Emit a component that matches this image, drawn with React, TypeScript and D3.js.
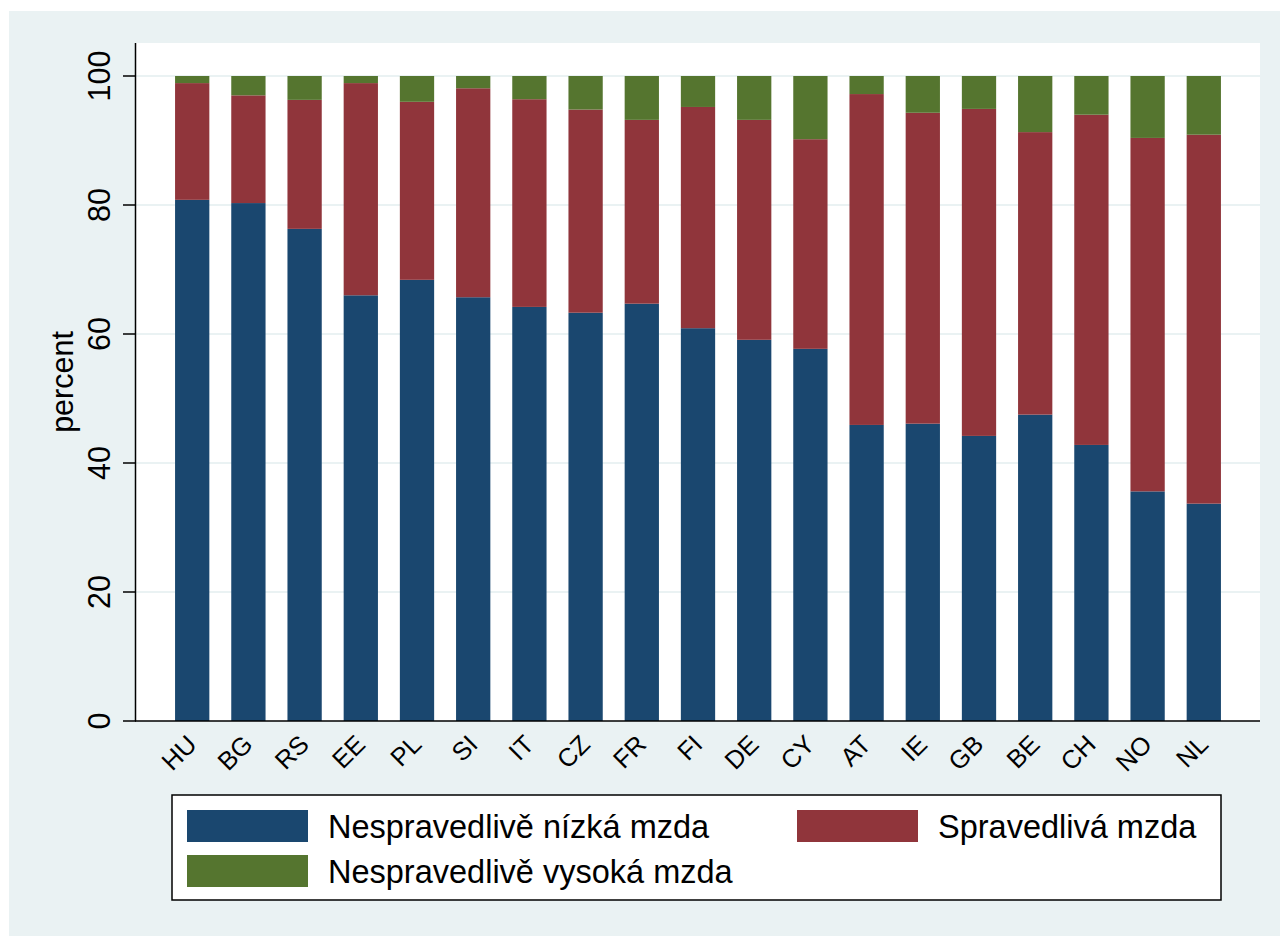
import * as React from 'react';
import * as d3 from 'd3';

// categories and series (percent of respondents)
const countries = ['HU', 'BG', 'RS', 'EE', 'PL', 'SI', 'IT', 'CZ', 'FR', 'FI', 'DE', 'CY', 'AT', 'IE', 'GB', 'BE', 'CH', 'NO', 'NL'];
const lowWage = [80.8, 80.3, 76.3, 66.0, 68.4, 65.7, 64.2, 63.3, 64.7, 60.9, 59.1, 57.7, 45.9, 46.1, 44.2, 47.5, 42.8, 35.6, 33.7];
const fairWage = [18.1, 16.7, 20.0, 32.9, 27.6, 32.4, 32.2, 31.5, 28.5, 34.3, 34.1, 32.5, 51.3, 48.2, 50.7, 43.8, 51.2, 54.8, 57.2];
const highWage = [1.1, 3.0, 3.7, 1.1, 4.0, 1.9, 3.6, 5.2, 6.8, 4.8, 6.8, 9.8, 2.8, 5.7, 5.1, 8.7, 6.0, 9.6, 9.1];
const yTicks = [0, 20, 40, 60, 80, 100];

const seriesKeys = ['low', 'fair', 'high'];
const seriesLabels: Record<string, string> = {
  low: 'Nespravedlivě nízká mzda',
  fair: 'Spravedlivá mzda',
  high: 'Nespravedlivě vysoká mzda',
};
const colors: Record<string, string> = {
  low: '#1a476f',
  fair: '#90353b',
  high: '#55752f',
};

const font = '"Liberation Sans", Arial, Helvetica, sans-serif';

const App: React.FC = () => {
  const width = 1280;
  const height = 936;
  const plotLeft = 136;
  const plotRight = 1260;
  const plotTop = 43;

  const rows = countries.map((c, i) => ({ country: c, low: lowWage[i], fair: fairWage[i], high: highWage[i] }));
  const stacked = d3.stack<any>().keys(seriesKeys)(rows);

  const x = d3.scaleBand<string>()
    .domain(countries)
    .range([plotLeft, plotRight])
    .paddingInner(0.39)
    .paddingOuter(0.695);
  const y = d3.scaleLinear().domain([0, 100]).range([721, 76]);

  const legendItems = [
    { key: 'low', sx: 187, sy: 810 },
    { key: 'fair', sx: 797, sy: 810 },
    { key: 'high', sx: 187, sy: 855 },
  ];

  return (
    <svg width={width} height={height} style={{ position: 'absolute', left: 0, top: 0 }} fontFamily={font}>
      <rect x={0} y={0} width={width} height={height} fill="#ffffff" />
      <rect x={9} y={11} width={width - 9} height={height - 11} fill="#eaf2f3" />
      <rect x={plotLeft} y={plotTop} width={plotRight - plotLeft} height={y(0) - plotTop} fill="#ffffff" />

      {/* gridlines */}
      {yTicks.filter(t => t > 0).map(t => (
        <line key={t} x1={plotLeft} x2={plotRight} y1={y(t)} y2={y(t)} stroke="#eaf2f3" strokeWidth={2} />
      ))}

      {/* bars */}
      {stacked.map(s => (
        <g key={s.key} fill={colors[s.key]}>
          {s.map((d, i) => (
            <rect key={i} x={x(countries[i])} width={x.bandwidth()} y={y(d[1])} height={y(d[0]) - y(d[1])} />
          ))}
        </g>
      ))}

      {/* y axis */}
      <line x1={plotLeft - 0.5} x2={plotLeft - 0.5} y1={plotTop} y2={y(0)} stroke="#000" strokeWidth={1.5} />
      {yTicks.map(t => (
        <g key={t}>
          <line x1={123} x2={plotLeft} y1={y(t)} y2={y(t)} stroke="#000" strokeWidth={1.5} />
          <text transform={`translate(110,${y(t)}) rotate(-90)`} textAnchor="middle" fontSize={30.5} fill="#000">
            {t}
          </text>
        </g>
      ))}
      <text transform={`translate(73,${(plotTop + y(0)) / 2}) rotate(-90)`} textAnchor="middle" fontSize={30.5} fill="#000">
        percent
      </text>

      {/* x axis */}
      <line x1={plotLeft - 1} x2={plotRight} y1={y(0)} y2={y(0)} stroke="#000" strokeWidth={1.5} />
      {countries.map(c => (
        <text key={c} transform={`translate(${x(c)! + x.bandwidth() / 2 + 6},${746}) rotate(-45)`} textAnchor="end" fontSize={25.5} fill="#000">
          {c}
        </text>
      ))}

      {/* legend */}
      <rect x={172} y={795} width={1049} height={105} fill="#ffffff" stroke="#000" strokeWidth={1.5} />
      {legendItems.map(it => (
        <g key={it.key}>
          <rect x={it.sx} y={it.sy} width={121} height={32} fill={colors[it.key]} />
          <text x={it.sx + 141} y={it.sy + 28} fontSize={32.5} fill="#000">{seriesLabels[it.key]}</text>
        </g>
      ))}
    </svg>
  );
};

export default App;
